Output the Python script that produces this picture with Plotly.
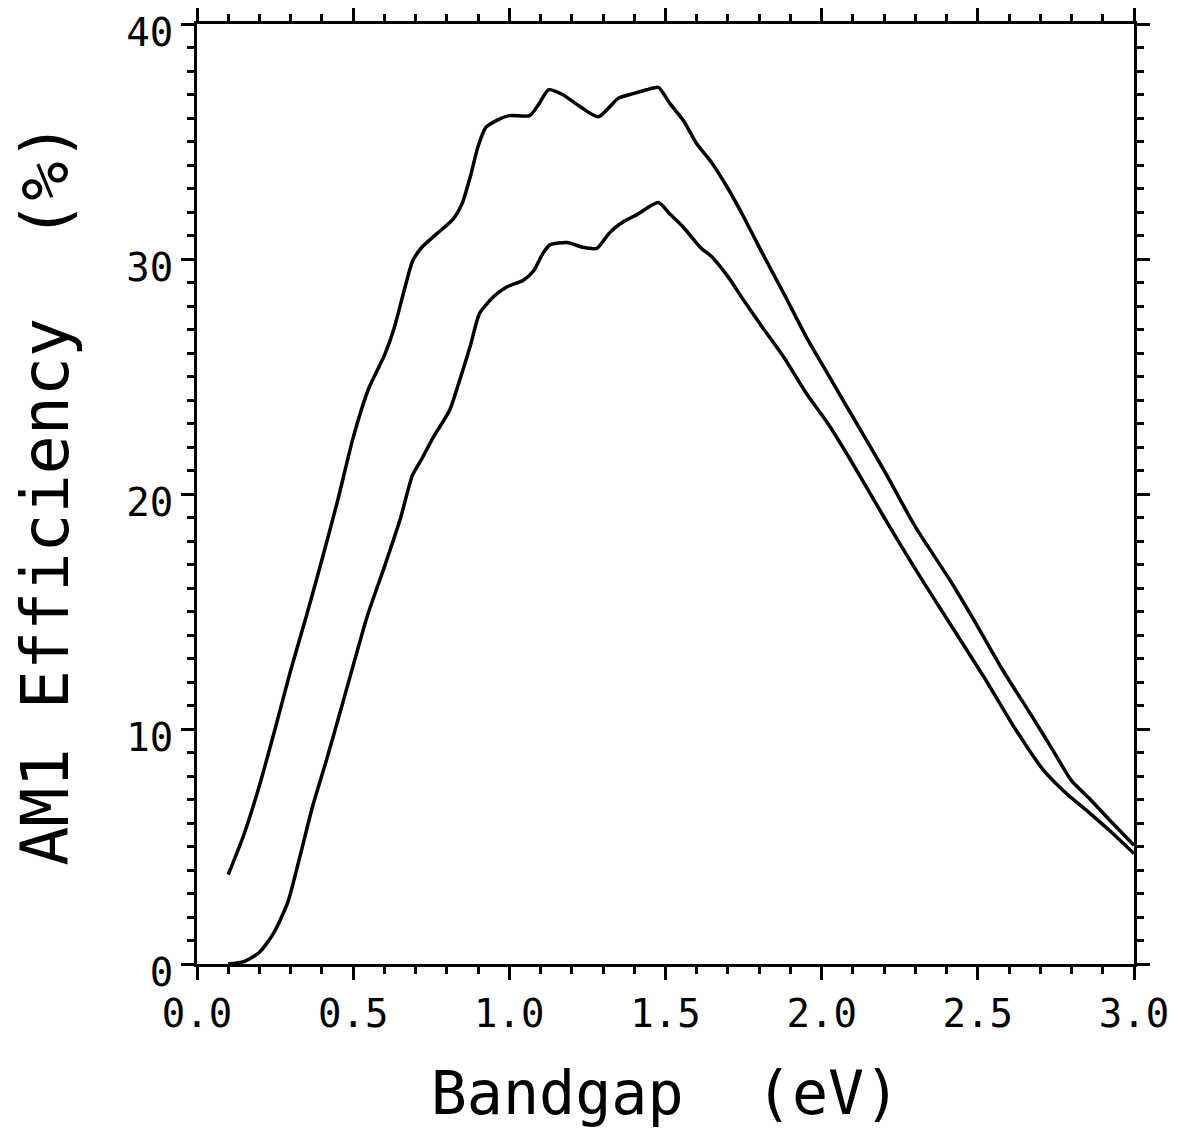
import plotly.graph_objects as go

# Bandgap (eV) and AM1 efficiency (%)
upper_bandgap = [0.10, 0.15, 0.20, 0.25, 0.30, 0.35, 0.40, 0.45, 0.50, 0.55,
                 0.60, 0.63, 0.666, 0.69, 0.72, 0.77, 0.82, 0.85, 0.875, 0.90,
                 0.925, 0.96, 1.00, 1.065, 1.095, 1.125, 1.17, 1.225, 1.285, 1.35,
                 1.40, 1.44, 1.477, 1.515, 1.557, 1.60, 1.648, 1.70, 1.75, 1.81,
                 1.88, 1.95, 2.02, 2.09, 2.20, 2.30, 2.41, 2.50, 2.58, 2.68,
                 2.74, 2.80, 2.86, 2.92, 3.00]
upper_eff = [3.8, 5.5, 7.6, 10.0, 12.5, 14.8, 17.2, 19.7, 22.4, 24.5,
             25.9, 27.0, 28.8, 29.9, 30.5, 31.1, 31.7, 32.4, 33.5, 34.8,
             35.6, 35.9, 36.1, 36.1, 36.6, 37.2, 37.0, 36.5, 36.05, 36.85,
             37.05, 37.2, 37.3, 36.6, 35.9, 34.9, 34.1, 33.0, 31.8, 30.25,
             28.5, 26.7, 25.1, 23.5, 21.0, 18.6, 16.35, 14.35, 12.5, 10.4,
             9.1, 7.8, 7.0, 6.15, 5.05]

lower_bandgap = [0.10, 0.15, 0.20, 0.245, 0.29, 0.33, 0.37, 0.415, 0.46, 0.50,
                 0.545, 0.60, 0.65, 0.69, 0.72, 0.756, 0.81, 0.84, 0.875, 0.905,
                 0.95, 0.99, 1.045, 1.078, 1.108, 1.13, 1.185, 1.235, 1.28, 1.32,
                 1.355, 1.41, 1.477, 1.515, 1.557, 1.615, 1.648, 1.70, 1.75, 1.81,
                 1.88, 1.95, 2.02, 2.09, 2.20, 2.30, 2.41, 2.52, 2.62, 2.71,
                 2.78, 2.86, 2.92, 3.00]
lower_eff = [0.0, 0.1, 0.5, 1.3, 2.6, 4.6, 6.7, 8.7, 10.8, 12.7,
             14.8, 16.9, 18.9, 20.8, 21.5, 22.4, 23.6, 24.8, 26.3, 27.7,
             28.4, 28.8, 29.1, 29.5, 30.25, 30.6, 30.7, 30.5, 30.45, 31.1,
             31.5, 31.9, 32.4, 31.9, 31.35, 30.45, 30.1, 29.25, 28.25, 27.1,
             25.8, 24.3, 23.0, 21.5, 19.0, 16.8, 14.5, 12.2, 10.0, 8.25,
             7.3, 6.4, 5.7, 4.7]

x_ticks = [0.0, 0.5, 1.0, 1.5, 2.0, 2.5, 3.0]
x_tick_labels = ["0.0", "0.5", "1.0", "1.5", "2.0", "2.5", "3.0"]
y_ticks = [0, 10, 20, 30, 40]
y_tick_labels = ["0", "10", "20", "30", "40"]

FONT = "DejaVu Sans Mono"

fig = go.Figure()
for xs, ys in [(upper_bandgap, upper_eff), (lower_bandgap, lower_eff)]:
    fig.add_trace(go.Scatter(x=xs, y=ys, mode="lines",
                             line=dict(color="black", width=3.5,
                                       shape="spline", smoothing=0.6),
                             showlegend=False))

axis_common = dict(
    showline=True, linecolor="black", linewidth=3, mirror="allticks",
    ticks="outside", ticklen=13, tickwidth=3, tickcolor="black",
    showgrid=False, zeroline=False, automargin=False,
    ticklabeloverflow="allow",
    tickfont=dict(family=FONT, size=39, color="black"),
)

fig.update_xaxes(
    range=[0, 3], tickvals=x_ticks, ticktext=x_tick_labels,
    minor=dict(dtick=0.1, tick0=0, ticks="outside", ticklen=7, tickwidth=3,
               tickcolor="black", showgrid=False),
    title=dict(text="Bandgap  (eV)", font=dict(family=FONT, size=60, color="black"),
               standoff=38),
    **axis_common,
)
fig.update_yaxes(
    range=[0, 40], tickvals=y_ticks, ticktext=y_tick_labels,
    ticklabelshift=8,
    minor=dict(dtick=1, tick0=0, ticks="outside", ticklen=7, tickwidth=3,
               tickcolor="black", showgrid=False),
    title=dict(text="AM1 Efficiency  (%)", font=dict(family=FONT, size=65, color="black"),
               standoff=42),
    **axis_common,
)

# the page adds an 8px body margin, so the figure is sized to fit the window
fig.update_layout(
    width=1170, height=1129,
    margin=dict(l=189, r=44, t=16, b=173),
    paper_bgcolor="white", plot_bgcolor="white",
)

fig.write_html("out.html")
